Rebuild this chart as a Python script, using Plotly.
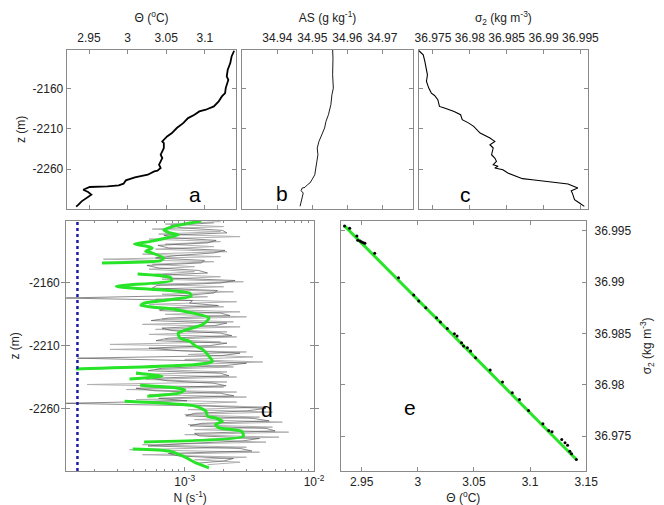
import plotly.graph_objects as go

# ---------------- Panel a : potential temperature profile ----------------
theta_a = [3.1380, 3.1347, 3.1330, 3.1297, 3.1284, 3.1305, 3.1271, 3.1263, 3.1221, 3.1180,
           3.1117, 3.1013, 3.0929, 3.0866, 3.0783, 3.0720, 3.0637, 3.0574, 3.0511, 3.0469,
           3.0449, 3.0469, 3.0469, 3.0449, 3.0428, 3.0449, 3.0428, 3.0407, 3.0428, 3.0386,
           3.0344, 3.0261, 3.0094, 3.0031, 2.9977, 2.9947, 2.9885, 2.9739, 2.9509, 2.9425,
           2.9488, 2.9530, 2.9467, 2.9404, 2.9363, 2.9333]
z_a = [-2113.3, -2120.4, -2128.6, -2136.9, -2145.1, -2149.3, -2159.6, -2165.8, -2169.9, -2176.1,
       -2182.3, -2186.4, -2188.5, -2192.6, -2196.8, -2203.0, -2209.1, -2215.3, -2219.5, -2223.6,
       -2225.7, -2227.7, -2234.0, -2238.1, -2242.2, -2246.3, -2250.4, -2254.6, -2258.7, -2262.0,
       -2262.8, -2267.0, -2270.3, -2271.9, -2274.0, -2278.1, -2280.2, -2281.4, -2282.2, -2285.6,
       -2288.4, -2291.7, -2295.9, -2300.0, -2304.1, -2306.6]

# ---------------- Panel b : absolute salinity profile ----------------
as_b = [34.9558, 34.9559, 34.9558, 34.9560, 34.9556, 34.9553, 34.9546, 34.9539, 34.9535, 34.9527,
        34.9519, 34.9514, 34.9516, 34.9513, 34.9511, 34.9507, 34.9499, 34.9493, 34.9486, 34.9479,
        34.9471, 34.9468, 34.9474, 34.9472, 34.9470, 34.9465]
z_b = [-2112.1, -2122.4, -2143.1, -2159.6, -2167.8, -2180.2, -2192.6, -2200.9, -2209.1, -2217.4,
       -2225.7, -2233.9, -2242.2, -2250.4, -2258.7, -2267.0, -2273.2, -2277.3, -2279.4, -2282.7,
       -2283.5, -2286.8, -2289.7, -2293.8, -2300.0, -2306.2]

# ---------------- Panel c : sigma2 profile ----------------
sig_c = [36.97310, 36.97368, 36.97390, 36.97412, 36.97425, 36.97412, 36.97443, 36.97478, 36.97522, 36.97566,
         36.97588, 36.97655, 36.97787, 36.97875, 36.97897, 36.97986, 36.98052, 36.98140, 36.98273, 36.98339,
         36.98273, 36.98317, 36.98295, 36.98339, 36.98361, 36.98317, 36.98383, 36.98339, 36.98449, 36.98515,
         36.98626, 36.98714, 36.98847, 36.99067, 36.99332, 36.99465, 36.99376, 36.99398, 36.99420, 36.99487,
         36.99553]
z_c = [-2113.3, -2118.3, -2126.5, -2134.8, -2143.1, -2151.3, -2159.6, -2165.8, -2168.7, -2174.0,
       -2182.3, -2184.4, -2188.5, -2192.6, -2198.8, -2203.0, -2207.1, -2215.3, -2221.5, -2225.7,
       -2229.8, -2233.9, -2242.2, -2246.3, -2250.4, -2254.6, -2256.6, -2258.7, -2260.8, -2264.9,
       -2269.0, -2271.9, -2273.2, -2275.2, -2278.5, -2283.5, -2286.8, -2291.7, -2297.9, -2302.1,
       -2306.2]

# ---------------- Panel d : buoyancy frequency N (units 1e-4 s^-1) ----------------
z_raw_light = [-2111, -2113, -2115, -2117, -2119, -2121, -2123, -2125, -2127, -2129,
               -2131, -2133, -2135, -2137, -2139, -2141, -2143, -2145, -2147, -2149,
               -2151, -2153, -2155, -2157, -2159, -2161, -2163, -2165, -2167, -2169,
               -2171, -2173, -2175, -2177, -2179, -2181, -2183, -2185, -2187, -2189,
               -2191, -2193, -2195, -2197, -2199, -2201, -2203, -2205, -2207, -2209,
               -2211, -2213, -2215, -2217, -2219, -2221, -2223, -2225, -2227, -2229,
               -2231, -2233, -2235, -2237, -2239, -2241, -2243, -2245, -2247, -2249,
               -2251, -2253, -2255, -2257, -2259, -2261, -2263, -2265, -2267, -2269,
               -2271, -2273, -2275, -2277, -2279, -2281, -2283, -2285, -2287, -2289,
               -2291, -2293, -2295, -2297, -2299, -2301, -2303, -2305]
n_raw_light = [18.9, 7.07, 20.0, 5.61, 18.9, 6.29, 26.8, 5.29, 18.9, 7.07,
               16.8, 5.94, 21.2, 4.71, 18.9, 2.35, 16.8, 5.61, 11.9, 5.29,
               11.9, 5.94, 18.9, 6.67, 28.4, 5.61, 20.0, 5.29, 23.8, 6.67,
               15.0, 5.94, 25.2, 5.29, 20.0, 6.29, 26.8, 7.07, 30.0, 6.67,
               23.8, 4.71, 26.8, 5.94, 21.2, 5.29, 25.2, 7.07, 18.9, 2.64,
               25.2, 2.64, 30.0, 10.6, 33.7, 10.0, 40.1, 11.2, 23.8, 5.94,
               21.2, 4.20, 25.2, 4.99, 21.2, 1.76, 20.0, 3.53, 25.2, 5.29,
               30.0, 4.20, 25.2, 8.41, 42.5, 10.6, 47.7, 10.0, 37.9, 11.9,
               56.8, 10.6, 47.7, 11.9, 63.7, 10.0, 53.6, 11.9, 42.5, 4.71,
               30.0, 3.74, 37.9, 4.71, 30.0, 11.9, 26.8, 15.0]

z_raw_dark = [-2112, -2114, -2116, -2118, -2120, -2122, -2124, -2126, -2128, -2130,
              -2132, -2134, -2136, -2138, -2140, -2142, -2144, -2146, -2148, -2150,
              -2152, -2154, -2156, -2158, -2160, -2162, -2164, -2166, -2168, -2170,
              -2172, -2174, -2176, -2178, -2180, -2182, -2184, -2186, -2188, -2190,
              -2192, -2194, -2196, -2198, -2200, -2202, -2204, -2206, -2208, -2210,
              -2212, -2214, -2216, -2218, -2220, -2222, -2224, -2226, -2228, -2230,
              -2232, -2234, -2236, -2238, -2240, -2242, -2244, -2246, -2248, -2250,
              -2252, -2254, -2256, -2258, -2260, -2262, -2264, -2266, -2268, -2270,
              -2272, -2274, -2276, -2278, -2280, -2282, -2284, -2286, -2288, -2290,
              -2292, -2294, -2296, -2298, -2300, -2302, -2304]
n_raw_dark = [16.8, 7.8, 9.44, 19.5, 21.2, 6.9, 8.41, 17.5, 15.0, 6.2,
              7.48, 20.5, 16.8, 8.9, 5.94, 14.2, 13.4, 5.1, 6.29, 12.8,
              15.0, 5.8, 7.48, 24.5, 18.9, 6.1, 5.61, 17.9, 16.8, 9.8,
              1.17, 11.5, 10.9, 18.2, 7.07, 6.4, 18.9, 22.4, 7.48, 5.5,
              21.2, 17.0, 6.67, 8.0, 18.9, 23.1, 7.48, 6.0, 21.2, 15.5,
              5.29, 9.2, 26.8, 19.0, 1.48, 12.0, 30.0, 20.1, 6.67, 5.2,
              18.9, 22.0, 5.61, 7.3, 16.8, 20.9, 4.20, 5.9, 18.9, 24.0,
              6.29, 10.4, 1.17, 13.0, 42.5, 30.5, 11.9, 10.2, 33.7, 45.0,
              13.4, 11.0, 42.5, 50.0, 11.9, 13.0, 37.9, 28.0, 10.6, 5.2,
              26.8, 33.0, 7.48, 9.0, 23.8, 20.0, 11.9]

# smoothed N (None = gap)
n_smooth = [13.4, 8.17, 6.87, 7.71, 8.91, 5.45, 4.08, 5.14, 5.61, 4.99, 5.61, 6.87, 6.48, 2.29, None,
            4.32, 7.71, 7.94, 2.96, 10.9, 11.2, 4.85, 4.58, 8.65, 15.4, 13.8, 8.91, 9.17, 10.9, 12.2,
            13.8, 15.4, 16.4, 12.2, 1.44, None,
            4.20, 6.67, 3.74, None,
            4.52, 8.65, 10.0, 9.17, 5.14, None,
            3.43, 12.2, 14.6, 15.0, 17.3, 19.5, 17.3, 18.4, 27.5, 28.4, 4.85, None,
            3.96, 7.71, 9.71, 12.2, 15.4]
z_smooth = [-2110.5, -2114.8, -2117.5, -2120.1, -2121.5, -2126.8, -2128.9, -2130.8, -2132.1, -2134.7, -2136.1, -2140.1, -2142.2, -2144.1, None,
            -2152.8, -2155.5, -2158.1, -2162.7, -2168.0, -2170.6, -2176.0, -2177.8, -2181.3, -2187.9, -2193.2, -2199.9, -2203.9, -2206.5, -2210.5,
            -2213.2, -2218.5, -2222.5, -2225.1, -2228.6, None,
            -2231.8, -2234.4, -2236.6, None,
            -2241.6, -2243.7, -2245.1, -2247.7, -2250.4, None,
            -2254.4, -2258.3, -2262.3, -2266.3, -2267.7, -2270.3, -2273.0, -2275.6, -2278.3, -2282.3, -2286.8, None,
            -2292.4, -2294.2, -2298.2, -2303.5, -2307.5]

noise_floor = 1.48  # 1e-4 s^-1
d_depth_span = [-2310, -2110]

# ---------------- Panel e : theta - sigma2 ----------------
theta_e = [2.9347, 2.9393, 2.9457, 2.9465, 2.9486, 2.9500, 2.9515, 2.9529, 2.9616, 2.9828,
           2.9964, 3.0008, 3.0071, 3.0167, 3.0202, 3.0263, 3.0326, 3.0350, 3.0390, 3.0408,
           3.0442, 3.0471, 3.0515, 3.0645, 3.0755, 3.0842, 3.0906, 3.0987, 3.1115, 3.1167,
           3.1196, 3.1283, 3.1312, 3.1335, 3.1355, 3.1370, 3.1413]
sigma_e = [36.99549, 36.99526, 36.99451, 36.99409, 36.99402, 36.99392, 36.99386, 36.99379, 36.99282, 36.99044,
           36.98875, 36.98817, 36.98752, 36.98654, 36.98612, 36.98550, 36.98498, 36.98475, 36.98410, 36.98378,
           36.98361, 36.98329, 36.98264, 36.98144, 36.98027, 36.97922, 36.97857, 36.97750, 36.97620, 36.97555,
           36.97542, 36.97467, 36.97435, 36.97412, 36.97353, 36.97327, 36.97272]
theta_fit = [2.9347, 3.1413]
sigma_fit = [36.99549, 36.97272]

# tick labels
z_ticks = [-2160, -2210, -2260]
z_ticktext = ["-2160", "-2210", "-2260"]

# ---------------- Figure ----------------
W, H = 664, 505
FONT = "Liberation Sans, Arial, Helvetica, sans-serif"
FRAME = "#8a8a8a"
TXT = "#222222"
GREEN = "rgb(40,228,40)"

fig = go.Figure()
fig.add_trace(go.Scatter(x=theta_a, y=z_a, xaxis="x", yaxis="y", mode="lines",
                         line=dict(color="black", width=1.8)))
fig.add_trace(go.Scatter(x=as_b, y=z_b, xaxis="x2", yaxis="y2", mode="lines",
                         line=dict(color="black", width=0.9)))
fig.add_trace(go.Scatter(x=sig_c, y=z_c, xaxis="x3", yaxis="y3", mode="lines",
                         line=dict(color="black", width=1.1)))

fig.add_trace(go.Scatter(x=[v * 1e-4 for v in n_raw_light], y=z_raw_light, xaxis="x4", yaxis="y4",
                         mode="lines", line=dict(color="#b0b0b0", width=1)))
fig.add_trace(go.Scatter(x=[v * 1e-4 for v in n_raw_dark], y=z_raw_dark, xaxis="x4", yaxis="y4",
                         mode="lines", line=dict(color="#5a5a5a", width=0.7)))
fig.add_trace(go.Scatter(x=[None if v is None else v * 1e-4 for v in n_smooth], y=z_smooth,
                         xaxis="x4", yaxis="y4", mode="lines", connectgaps=False,
                         line=dict(color=GREEN, width=3, shape="spline", smoothing=0.6)))
fig.add_trace(go.Scatter(x=[noise_floor * 1e-4] * 2, y=d_depth_span, xaxis="x4", yaxis="y4",
                         mode="lines", line=dict(color="#1c1ca8", width=2.5, dash="dot")))
# carrier for the minor-tick overlay axis
fig.add_trace(go.Scatter(x=[noise_floor * 1e-4], y=[d_depth_span[0]], xaxis="x6", yaxis="y4",
                         mode="markers", marker=dict(opacity=0), hoverinfo="skip"))

fig.add_trace(go.Scatter(x=theta_fit, y=sigma_fit, xaxis="x5", yaxis="y5", mode="lines",
                         line=dict(color=GREEN, width=3)))
fig.add_trace(go.Scatter(x=theta_e, y=sigma_e, xaxis="x5", yaxis="y5", mode="markers",
                         marker=dict(color="black", size=3)))


def px_x(a, b):
    return [a / W, b / W]


def px_y(top, bottom):
    return [1 - bottom / H, 1 - top / H]


common = dict(showline=True, linecolor=FRAME, linewidth=1, mirror="allticks", ticks="inside",
              ticklen=4, tickcolor=FRAME, showgrid=False, zeroline=False,
              tickfont=dict(family=FONT, size=12, color=TXT),
              title_font=dict(family=FONT, size=12, color=TXT))

top_y = px_y(41.7, 201)
bot_y = px_y(212.7, 463)
d_dom = px_x(55.5, 309.5)

minor_vals = [k * 1e-4 for k in range(2, 10)] + [k * 1e-3 for k in range(2, 10)]

fig.update_layout(
    width=W, height=H, margin=dict(l=0, r=0, t=0, b=0),
    paper_bgcolor="white", plot_bgcolor="white", showlegend=False,
    font=dict(family=FONT, size=12, color=TXT),
    xaxis=dict(common, domain=px_x(56, 230), range=[2.921, 3.141], side="top", anchor="y",
               tickvals=[2.95, 3.0, 3.05, 3.1], ticktext=["2.95", "3", "3.05", "3.1"],
               ticklabelstandoff=2,
               title=dict(text="Θ (<sup>o</sup>C)", standoff=5)),
    yaxis=dict(common, domain=top_y, range=[-2309.5, -2112], anchor="x", tickvals=z_ticks,
               ticktext=z_ticktext, title=dict(text="z (m)", standoff=4)),
    xaxis2=dict(common, domain=px_x(236, 410.7), range=[34.930, 34.9787], side="top", anchor="y2",
                tickvals=[34.94, 34.95, 34.96, 34.97], ticklabelstandoff=2,
                title=dict(text="AS (g kg<sup>-1</sup>)", standoff=5)),
    yaxis2=dict(common, domain=top_y, range=[-2309.5, -2112], anchor="x2", tickvals=z_ticks,
                showticklabels=False),
    xaxis3=dict(common, domain=px_x(417, 590), range=[36.9731, 36.9960], side="top", anchor="y3",
                tickvals=[36.975, 36.98, 36.985, 36.99, 36.995],
                ticktext=["36.975", "36.98", "36.985", "36.99", "36.995"], ticklabelstandoff=2,
                title=dict(text="σ<sub>2</sub> (kg m<sup>-3</sup>)", standoff=5)),
    yaxis3=dict(common, domain=top_y, range=[-2309.5, -2112], anchor="x3", tickvals=z_ticks,
                showticklabels=False),
    xaxis4=dict(common, domain=d_dom, type="log", range=[-3.917, -2], anchor="y4",
                tickvals=[1e-3, 1e-2], ticktext=["10<sup>-3</sup>", "10<sup>-2</sup>"],
                title=dict(text="N (s<sup>-1</sup>)", standoff=4)),
    xaxis6=dict(domain=d_dom, type="log", range=[-3.917, -2], anchor="y4", overlaying="x4",
                tickvals=minor_vals, showticklabels=False, ticks="inside", ticklen=2,
                tickcolor=FRAME, mirror="allticks", showline=False, showgrid=False, zeroline=False),
    yaxis4=dict(common, domain=bot_y, range=[-2310, -2110.3], anchor="x4", tickvals=z_ticks,
                ticktext=z_ticktext, ticklabelstandoff=3, title=dict(text="z (m)", standoff=8)),
    xaxis5=dict(common, domain=px_x(336.7, 588.3), range=[2.9312, 3.15], anchor="y5",
                tickvals=[2.95, 3.0, 3.05, 3.1, 3.15], ticktext=["2.95", "3", "3.05", "3.1", "3.15"],
                title=dict(text="Θ (<sup>o</sup>C)", standoff=2)),
    yaxis5=dict(common, domain=bot_y, range=[36.9716, 36.9960], anchor="x5", side="right",
                tickvals=[36.975, 36.98, 36.985, 36.99, 36.995],
                ticktext=["36.975", "36.98", "36.985", "36.99", "36.995"], ticklabelstandoff=5,
                title=dict(text="σ<sub>2</sub> (kg m<sup>-3</sup>)", standoff=12)),
)

letters = [("a", 187.3, 186.7), ("b", 276.7, 185), ("c", 465, 186.7), ("d", 261.7, 401.7), ("e", 408.3, 399)]
for t, x, y in letters:
    fig.add_annotation(text=t, x=x / W, y=1 - y / H, xref="paper", yref="paper", showarrow=False,
                       font=dict(family=FONT, size=21, color="black"), xanchor="center", yanchor="middle")

fig.write_html("out.html")
